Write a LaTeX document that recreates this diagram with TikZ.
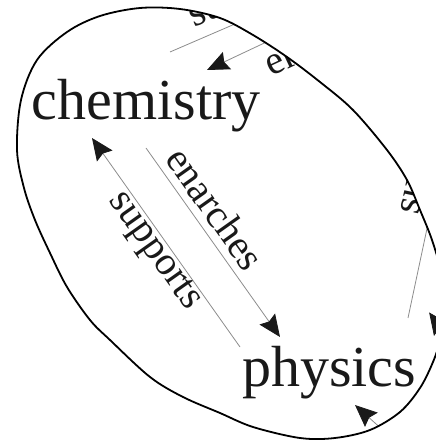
\documentclass[tikz,border=0pt]{standalone}
\usepackage{fontspec}
\setmainfont{Liberation Serif}
\usetikzlibrary{arrows.meta}
\tikzset{
  big/.style={inner sep=0pt, font=\fontsize{58}{60}\selectfont, text=black!90},
  lab/.style={inner sep=0pt, font=\fontsize{40}{42}\selectfont, text=black!90},
  edge/.style={draw=black!45, line width=0.8pt},
  arr/.style={edge, -{Stealth[length=22pt, width=19pt, inset=3pt, color=black!90]}},
  blob/.style={draw=black, line width=1.8pt}
}
\begin{document}
\begin{tikzpicture}[x=1pt, y=1pt]
\useasboundingbox (0,0) rectangle (436,440);
\def\blobpath{plot[smooth cycle, tension=0.55] coordinates {
 (17,290) (21,340) (37,380) (67,408) (100,424) (140,432) (180,431) (220,422)
 (253,405) (287,383) (320,358) (353,330) (387,290) (407,260) (420,230)
 (432,200) (442,165) (445,135) (440,100) (433,78) (420,52) (400,28)
 (370,10) (335,2) (300,2) (253,13) (220,27) (183,43) (150,63)
 (110,100) (90,120) (67,153) (50,187) (35,220) (24,252)}}
\begin{scope}
\clip \blobpath;
% main nodes
\node[big, anchor=base west] (chem) at (31.5,320) {chemistry};
\node[big, anchor=base west] (phys) at (242,53) {physics};
% edge endpoints
\coordinate (chemE) at (146,292);
\coordinate (physE) at (280,103);
\coordinate (physS) at (240,93);
\coordinate (chemS) at (92,302);
\draw[arr] (chemE) -- (physE);
\draw[arr] (physS) -- (chemS);
\node[lab, rotate=-54.7, anchor=base] (lenarches) at (204.5,223.6) {enarches};
\node[lab, rotate=-54.7, anchor=base] (lsupports) at (148,184) {supports};
% partial edges leaving the frame
\coordinate (t1a) at (170,388);
\coordinate (t1b) at (265,429);
\draw[edge] (t1a) -- (t1b);
\node[lab, rotate=24, anchor=base west] (tsup) at (194,412) {supports};
\coordinate (t2a) at (292,410);
\coordinate (t2b) at (207,370);
\draw[arr] (t2a) -- (t2b);
\node[lab, rotate=25, anchor=base west] (tena) at (271,363) {enarches};
\coordinate (r1a) at (408,122);
\coordinate (r1b) at (432,235);
\draw[edge] (r1a) -- (r1b);
\node[lab, rotate=78, anchor=base west] (rsup) at (418,224) {supports};
\coordinate (r2a) at (454,200);
\coordinate (r2b) at (434,104);
\draw[arr] (r2a) -- (r2b);
\coordinate (b1a) at (405,-10);
\coordinate (b1b) at (355,35);
\draw[arr] (b1a) -- (b1b);
\end{scope}
\draw[blob] \blobpath;
\end{tikzpicture}
\end{document}
